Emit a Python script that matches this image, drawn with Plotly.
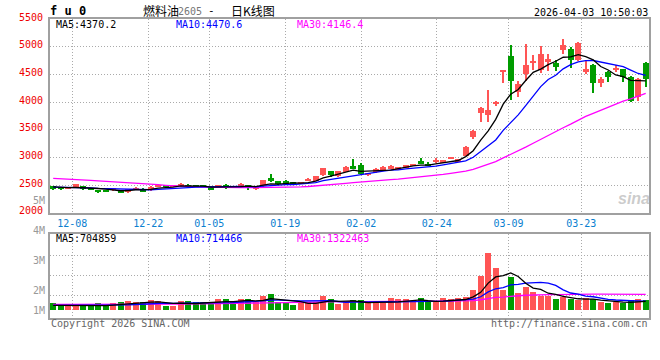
import plotly.graph_objects as go

# ---------------- data ----------------
open_ = [2482, 2458, 2440, 2470, 2488, 2446, 2417, 2405, 2426, 2405,
         2387, 2429, 2440, 2411, 2470, 2500, 2470, 2490, 2506, 2500,
         2500, 2488, 2470, 2506, 2488, 2482, 2506, 2436, 2482, 2631,
         2571, 2571, 2554, 2524, 2577, 2577, 2685, 2756, 2661, 2744,
         2851, 2863, 2690, 2732, 2780, 2792, 2792, 2816, 2851, 2935,
         2893, 2934, 2911, 2988, 2929, 3030, 3375, 3804, 3762, 3982,
         4548, 4834, 4191, 4500, 4720, 4577, 4726, 4708, 4947, 4965,
         4768, 4536, 4667, 4340, 4548, 4589, 4595, 4447, 4101, 4714]
high = [2494, 2464, 2470, 2530, 2494, 2452, 2423, 2411, 2458, 2411,
        2435, 2464, 2446, 2482, 2506, 2506, 2506, 2536, 2518, 2506,
        2506, 2494, 2512, 2524, 2494, 2536, 2512, 2458, 2601, 2702,
        2577, 2601, 2560, 2565, 2625, 2673, 2810, 2762, 2762, 2840,
        2970, 2899, 2720, 2804, 2840, 2857, 2833, 2869, 2887, 2988,
        2929, 3000, 2958, 3018, 2976, 3203, 3494, 3905, 4220, 4024,
        4577, 5024, 4387, 5042, 4845, 5006, 4863, 4756, 5131, 4994,
        5090, 4768, 4697, 4459, 4560, 4679, 4607, 4476, 4429, 4720]
low = [2411, 2417, 2432, 2464, 2423, 2417, 2363, 2387, 2405, 2357,
       2363, 2423, 2381, 2405, 2464, 2464, 2464, 2470, 2464, 2464,
       2464, 2417, 2464, 2429, 2452, 2476, 2423, 2429, 2476, 2565,
       2512, 2518, 2506, 2518, 2571, 2571, 2673, 2643, 2655, 2738,
       2786, 2685, 2667, 2726, 2774, 2786, 2786, 2810, 2845, 2881,
       2845, 2911, 2905, 2982, 2923, 3024, 3327, 3649, 3637, 3923,
       4340, 4042, 4084, 4387, 4577, 4530, 4566, 4566, 4863, 4625,
       4750, 4500, 4161, 4268, 4369, 4548, 4369, 4000, 4024, 4280]
close = [2446, 2435, 2458, 2524, 2429, 2423, 2375, 2393, 2444, 2375,
         2429, 2458, 2387, 2476, 2500, 2470, 2500, 2508, 2470, 2470,
         2470, 2423, 2506, 2464, 2458, 2530, 2470, 2454, 2595, 2577,
         2518, 2524, 2512, 2560, 2619, 2667, 2804, 2685, 2756, 2833,
         2792, 2696, 2708, 2792, 2833, 2851, 2827, 2863, 2881, 2887,
         2851, 2952, 2952, 3012, 2970, 3197, 3488, 3899, 3863, 4000,
         4566, 4387, 4328, 4667, 4738, 4863, 4786, 4637, 5024, 4768,
         5072, 4607, 4351, 4411, 4459, 4625, 4447, 4012, 4411, 4411]

ma5 = [2470, 2462, 2458, 2460, 2458, 2454, 2442, 2429, 2412, 2401,
       2403, 2419, 2418, 2425, 2450, 2458, 2467, 2490, 2489, 2483,
       2483, 2468, 2468, 2467, 2464, 2476, 2486, 2475, 2501, 2525,
       2522, 2533, 2545, 2538, 2547, 2576, 2632, 2667, 2706, 2749,
       2774, 2752, 2756, 2763, 2763, 2775, 2801, 2833, 2851, 2862,
       2862, 2887, 2905, 2931, 2947, 3017, 3124, 3313, 3483, 3689,
       3963, 4143, 4229, 4390, 4537, 4597, 4676, 4738, 4810, 4816,
       4857, 4822, 4764, 4642, 4580, 4491, 4459, 4392, 4392, 4382]
ma10 = [2466, 2465, 2463, 2462, 2458, 2452, 2445, 2440, 2435, 2430,
        2429, 2431, 2424, 2419, 2426, 2431, 2443, 2454, 2457, 2467,
        2471, 2468, 2479, 2478, 2474, 2480, 2477, 2472, 2484, 2495,
        2499, 2510, 2510, 2520, 2536, 2549, 2583, 2606, 2622, 2648,
        2675, 2692, 2712, 2735, 2756, 2775, 2777, 2795, 2807, 2813,
        2819, 2844, 2869, 2891, 2905, 2940, 3006, 3109, 3207, 3318,
        3490, 3634, 3771, 3937, 4113, 4280, 4410, 4484, 4600, 4677,
        4727, 4749, 4751, 4726, 4698, 4674, 4641, 4578, 4517, 4481]
ma30 = [2625, 2620, 2607, 2604, 2595, 2589, 2578, 2571, 2560, 2554,
        2545, 2536, 2527, 2518, 2510, 2500, 2490, 2482, 2476, 2470,
        2466, 2462, 2460, 2458, 2457, 2457, 2457, 2458, 2460, 2464,
        2466, 2469, 2471, 2472, 2478, 2487, 2501, 2511, 2521, 2536,
        2548, 2556, 2567, 2577, 2588, 2601, 2612, 2624, 2638, 2652,
        2664, 2682, 2697, 2715, 2732, 2754, 2788, 2837, 2879, 2926,
        2994, 3057, 3117, 3187, 3258, 3331, 3397, 3462, 3538, 3602,
        3678, 3742, 3797, 3851, 3905, 3964, 4018, 4057, 4108, 4158]

# volume in thousands of lots
volume = [518, 348, 348, 348, 348, 348, 518, 348, 518, 592,
          666, 592, 592, 740, 666, 348, 348, 666, 666, 592,
          592, 592, 814, 814, 592, 814, 814, 592, 1058, 1206,
          592, 592, 370, 592, 592, 592, 1058, 814, 444, 592,
          740, 740, 518, 518, 518, 888, 814, 814, 592, 888,
          592, 592, 888, 814, 888, 984, 1554, 2590, 4240, 3182,
          1502, 2516, 1258, 1776, 1354, 1058, 1058, 814, 1014, 814,
          740, 940, 814, 614, 518, 644, 570, 740, 814, 740]
vol_ma5 = [392, 392, 385, 385, 382, 348, 382, 382, 416, 465,
           528, 543, 592, 636, 651, 588, 539, 554, 539, 524,
           573, 622, 651, 681, 681, 725, 770, 725, 774, 897,
           852, 808, 764, 670, 548, 548, 641, 730, 700, 700,
           730, 666, 607, 622, 607, 636, 651, 710, 725, 799,
           740, 696, 710, 755, 755, 833, 1026, 1366, 2051, 2510,
           2614, 2806, 2540, 2047, 1681, 1592, 1301, 1212, 1060, 952,
           888, 864, 864, 784, 725, 706, 632, 617, 657, 702]
vol_ma10 = [392, 392, 390, 388, 386, 384, 384, 390, 400, 423,
            438, 463, 487, 526, 558, 558, 541, 573, 588, 588,
            580, 580, 602, 610, 602, 649, 696, 688, 727, 789,
            789, 789, 744, 722, 722, 700, 724, 747, 685, 624,
            639, 653, 668, 661, 653, 683, 659, 659, 673, 703,
            688, 673, 710, 740, 777, 787, 861, 1038, 1403, 1632,
            1723, 1916, 1953, 2049, 2096, 2103, 2054, 1876, 1553, 1316,
            1240, 1083, 1038, 922, 838, 797, 748, 741, 721, 713]
vol_ma30 = [470, 468, 466, 466, 465, 464, 464, 463, 463, 462,
            465, 468, 472, 476, 480, 485, 490, 495, 500, 505,
            510, 520, 530, 540, 550, 560, 570, 580, 592, 600,
            602, 611, 611, 619, 628, 636, 653, 669, 667, 667,
            669, 674, 672, 665, 659, 677, 693, 698, 696, 705,
            705, 705, 707, 707, 718, 723, 748, 815, 921, 986,
            1017, 1081, 1111, 1150, 1175, 1191, 1191, 1191, 1210, 1217,
            1217, 1224, 1234, 1237, 1237, 1229, 1221, 1218, 1225, 1221]

date_tick_labels = ["12-08", "12-22", "01-05", "01-19", "02-02", "02-24", "03-09", "03-23"]
date_tick_pos = [2.55, 12.68, 20.8, 30.95, 41.08, 51.13, 60.7, 70.4]
price_ticks = [2000, 2500, 3000, 3500, 4000, 4500, 5000, 5500]
vol_grid = [1162, 2642, 4122]
vol_labels = ["5M", "4M", "3M", "2M", "1M"]

title_name = "燃料油"
title_code = "2605"
title_rest = "日K线图"
symbol = "f u 0"
timestamp = "2026-04-03 10:50:03"
price_legend = ["MA5:4370.2", "MA10:4470.6", "MA30:4146.4"]
vol_legend = ["MA5:704859", "MA10:714466", "MA30:1322463"]

# ---------------- styling ----------------
RED = "#FF5555"
GREEN = "#009C00"
MONO = "DejaVu Sans Mono"
GRID = "#AAAAAA"
BORDER = "#A0A0A0"

n = len(close)
idx = list(range(n))
colors = [RED if c >= o else GREEN for o, c in zip(open_, close)]
body_base = [min(o, c) for o, c in zip(open_, close)]
body_h = [max(abs(c - o), 16) for o, c in zip(open_, close)]
wick_h = [h - l for h, l in zip(high, low)]

fig = go.Figure()
fig.add_trace(go.Bar(x=idx, y=wick_h, base=low, width=0.14, marker=dict(color=colors, line=dict(width=0)),
                     xaxis="x", yaxis="y", hoverinfo="skip"))
fig.add_trace(go.Bar(x=idx, y=body_h, base=body_base, width=0.76, marker=dict(color=colors, line=dict(width=0)),
                     xaxis="x", yaxis="y"))
for ser, col in [(ma30, "#FF00FF"), (ma10, "#0000FF"), (ma5, "#000000")]:
    fig.add_trace(go.Scatter(x=idx, y=ser, mode="lines", line=dict(color=col, width=1.3),
                             xaxis="x", yaxis="y"))

fig.add_trace(go.Bar(x=idx, y=volume, width=0.76, marker=dict(color=colors, line=dict(width=0)),
                     xaxis="x2", yaxis="y2"))
for ser, col in [(vol_ma30, "#FF00FF"), (vol_ma10, "#0000FF"), (vol_ma5, "#000000")]:
    fig.add_trace(go.Scatter(x=idx, y=ser, mode="lines", line=dict(color=col, width=1.3),
                             xaxis="x2", yaxis="y2"))

xr = [-0.427, 79.44]
common_x = dict(range=xr, showgrid=True, gridcolor=GRID, griddash="1px,2px", gridwidth=1,
                showline=True, mirror=True, linecolor=BORDER, linewidth=2, ticks="", zeroline=False,
                tickvals=date_tick_pos, fixedrange=True, automargin=False)
fig.update_layout(
    width=660, height=360,
    margin=dict(l=50, r=11, t=19, b=42, autoexpand=False),
    paper_bgcolor="white", plot_bgcolor="white",
    barmode="overlay", showlegend=False, bargap=0,
    xaxis=dict(**common_x, anchor="y", ticktext=date_tick_labels,
               tickfont=dict(family=MONO, size=10, color="#0A80D0")),
    xaxis2=dict(**common_x, anchor="y2", showticklabels=False),
    yaxis=dict(domain=[0.3512, 1], range=[2000, 5500], tickvals=price_ticks, automargin=False,
               showgrid=True, gridcolor=GRID, griddash="1px,2px", gridwidth=1,
               showline=True, mirror=True, linecolor=BORDER, linewidth=2, ticks="",
               zeroline=False, tickfont=dict(family=MONO, size=10, color="#EE0000"),
               ticklabelstandoff=3, ticklabelshift=-2, fixedrange=True),
    yaxis2=dict(domain=[0, 0.2799], range=[-540, 5676], tickvals=vol_grid, showticklabels=False,
                automargin=False, fixedrange=True,
                showgrid=True, gridcolor=GRID, griddash="1px,2px", gridwidth=1,
                showline=True, mirror=True, linecolor=BORDER, linewidth=2, ticks="", zeroline=False),
)

def px_x(px):
    return (px - 50) / 599.0

def px_y(py):
    return (318 - py) / 299.0

ann = []
def text(s, x, y, color="#000000", size=10, family=MONO, xanchor="left"):
    ann.append(dict(text=s, x=px_x(x), y=px_y(y), xref="paper", yref="paper", showarrow=False,
                    xanchor=xanchor, yanchor="middle", font=dict(family=family, size=size, color=color)))

text("<b>" + symbol + "</b>", 48, 11.5, size=12)
text(title_name, 141, 10.5, size=12, family="Noto Sans CJK SC")
text(title_code, 176, 11, color="#777777", size=10)
text("-", 206, 10.5, size=11)
text(title_rest, 229, 10.5, size=12, family="Noto Sans CJK SC")
text(timestamp, 650, 12, xanchor="right")

text(price_legend[0], 54, 24.5, color="#000000")
text(price_legend[1], 174, 24.5, color="#0000FF")
text(price_legend[2], 295, 24.5, color="#FF00FF")
text(vol_legend[0], 54, 238.5, color="#000000")
text(vol_legend[1], 174, 238.5, color="#0000FF")
text(vol_legend[2], 295, 238.5, color="#FF00FF")

for lab, py in zip(vol_labels, [200.7, 230.7, 260.7, 290.7, 310.7]):
    text(lab, 46.5, py, color="#999999", xanchor="right")

text("Copyright 2026 SINA.COM", 49, 323.5, color="#666666")
text("http://finance.sina.com.cn", 650, 323.5, color="#666666", xanchor="right")
text("<b><i>sina</i></b>", 652, 198, color="rgba(160,160,160,0.55)", size=16,
     family="Liberation Sans", xanchor="right")

fig.update_layout(annotations=ann)
fig.write_html("out.html", config={"displayModeBar": False},
               post_script="document.body.style.margin='0';document.body.style.overflow='hidden';")
